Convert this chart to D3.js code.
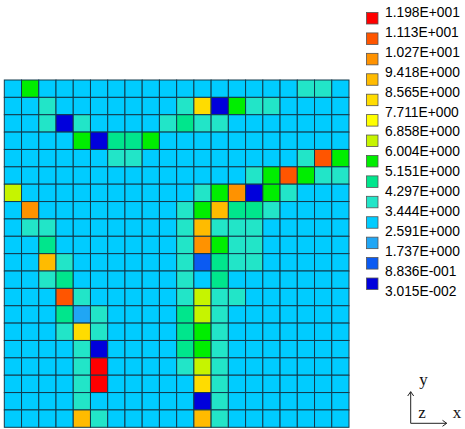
<!DOCTYPE html>
<html>
<head>
<meta charset="utf-8">
<script src="https://cdn.jsdelivr.net/npm/d3@7/dist/d3.min.js"></script>
<style>
  html, body { margin: 0; padding: 0; background: #fff; }
  svg { display: block; }
</style>
</head>
<body>
<svg id="chart" width="465" height="429"></svg>
<script>
// Contour levels shown in the legend (low to high)
const levels = [0.03015, 0.8836, 1.737, 2.591, 3.444, 4.297, 5.151, 6.004,
                6.858, 7.711, 8.565, 9.418, 10.27, 11.13, 11.98];

// One colour per band between consecutive levels (low to high)
const bandColors = ["#0000dc", "#0b5af2", "#20a6f4", "#00ccff", "#22e5c8",
                    "#00e68c", "#00ee00", "#c6f400", "#ffff00", "#ffdc00",
                    "#ffbb00", "#ff9200", "#ff5500", "#ff0000"];

// Cell values, 20 rows (top to bottom) x 20 columns (left to right)
const fieldValues = [
  [3.1,5.6,3.2,3.1,3.0,3.0,3.0,3.0,3.0,3.1,3.1,3.2,3.1,3.0,3.0,3.1,3.2,3.6,3.6,3.1],
  [3.0,3.2,3.8,3.1,3.0,3.0,3.0,3.0,3.1,3.2,3.9,8.2,0.4,5.7,3.8,3.6,3.2,3.1,3.0,3.0],
  [3.0,3.1,3.9,0.5,3.9,3.1,3.1,3.1,3.2,3.7,4.6,3.8,3.7,3.1,3.0,3.0,3.0,3.0,3.0,3.0],
  [3.0,3.0,3.2,3.2,5.5,0.3,4.5,4.4,5.6,3.3,3.1,3.0,3.0,3.0,3.0,3.0,3.0,3.1,3.2,3.3],
  [3.0,3.0,3.0,3.0,3.1,3.3,3.8,3.9,3.3,3.1,3.0,3.0,3.0,3.0,3.0,3.1,3.3,3.8,10.8,5.6],
  [3.1,3.0,3.0,3.0,3.0,3.0,3.1,3.1,3.0,3.0,3.0,3.0,3.1,3.3,3.9,5.7,10.9,5.5,3.8,3.7],
  [6.5,3.3,3.0,3.0,3.0,3.0,3.0,3.0,3.0,3.0,3.3,3.9,5.6,9.9,0.2,5.6,3.7,3.4,3.2,3.1],
  [3.3,9.8,3.3,3.0,3.0,3.0,3.0,3.0,3.0,3.1,3.8,5.8,9.1,4.6,4.5,3.7,3.3,3.1,3.0,3.0],
  [3.1,3.8,3.9,3.1,3.0,3.0,3.0,3.0,3.0,3.2,3.9,8.9,3.9,3.8,3.6,3.3,3.1,3.0,3.0,3.0],
  [3.0,3.2,4.7,3.2,3.0,3.0,3.0,3.0,3.0,3.1,3.8,10.0,5.5,3.8,3.6,3.2,3.0,3.0,3.0,3.0],
  [3.0,3.1,9.0,3.9,3.2,3.0,3.0,3.0,3.0,3.1,3.8,1.2,4.6,3.8,3.6,3.2,3.0,3.0,3.0,3.0],
  [3.0,3.0,3.8,4.6,3.2,3.0,3.0,3.0,3.0,3.1,3.9,3.3,4.5,3.3,3.1,3.0,3.0,3.0,3.0,3.0],
  [3.0,3.0,3.2,10.6,3.8,3.2,3.0,3.0,3.0,3.2,3.9,6.5,3.9,3.6,3.2,3.0,3.0,3.0,3.0,3.0],
  [3.0,3.0,3.0,4.5,2.2,3.8,3.1,3.0,3.0,3.3,4.5,6.6,3.8,3.3,3.1,3.0,3.0,3.0,3.0,3.0],
  [3.0,3.0,3.0,3.9,8.0,3.9,3.1,3.0,3.0,3.3,4.6,5.7,3.9,3.2,3.0,3.0,3.0,3.0,3.0,3.0],
  [3.0,3.0,3.0,3.2,3.9,0.6,3.2,3.0,3.0,3.3,4.5,5.8,3.8,3.2,3.0,3.0,3.0,3.0,3.0,3.0],
  [3.0,3.0,3.0,3.1,3.8,11.9,3.2,3.0,3.0,3.2,3.9,6.4,3.8,3.1,3.0,3.0,3.0,3.0,3.0,3.0],
  [3.0,3.0,3.0,3.1,3.8,11.5,3.2,3.0,3.0,3.1,3.3,8.3,3.7,3.1,3.0,3.0,3.0,3.0,3.0,3.0],
  [3.0,3.0,3.0,3.1,3.7,3.3,3.1,3.0,3.0,3.0,3.2,0.4,3.6,3.1,3.0,3.0,3.0,3.0,3.0,3.0],
  [3.0,3.0,3.0,3.1,9.0,3.6,3.1,3.0,3.0,3.0,3.1,9.2,3.6,3.1,3.0,3.0,3.0,3.0,3.0,3.0]
];

const svg = d3.select("#chart");

// Banded colour scale: thresholds are the inner contour levels
const color = d3.scaleThreshold()
  .domain(levels.slice(1, -1))
  .range(bandColors);

const nRows = fieldValues.length;
const nCols = fieldValues[0].length;

const x = d3.scaleBand().domain(d3.range(nCols)).range([4.3, 349]).paddingInner(0);
const y = d3.scaleBand().domain(d3.range(nRows)).range([80, 427.3]).paddingInner(0);

const cells = [];
fieldValues.forEach((row, r) => row.forEach((v, c) => cells.push({ r, c, v })));

// Mesh cells
svg.append("g")
  .selectAll("rect")
  .data(cells)
  .join("rect")
  .attr("x", d => x(d.c))
  .attr("y", d => y(d.r))
  .attr("width", x.bandwidth())
  .attr("height", y.bandwidth())
  .attr("fill", d => color(d.v))
  .attr("stroke", "#123a4c")
  .attr("stroke-width", 1);

// Legend: labels from highest level down, swatches between consecutive labels
function sciLabel(v) {
  const [m, e] = v.toExponential(3).split("e");
  return m + "E" + e[0] + e.slice(1).padStart(3, "0");
}
const legendLevels = levels.slice().reverse();
const legendColors = bandColors.slice().reverse();

const ly = d3.scalePoint().domain(d3.range(legendLevels.length)).range([13.5, 292]);
const sy = d3.scalePoint().domain(d3.range(legendColors.length)).range([12.5, 278]);

const legend = svg.append("g");
legend.selectAll("rect")
  .data(legendColors)
  .join("rect")
  .attr("x", 366.5)
  .attr("y", (d, i) => sy(i))
  .attr("width", 11.5)
  .attr("height", 11.5)
  .attr("fill", d => d)
  .attr("stroke", "#555")
  .attr("stroke-width", 0.8);

legend.selectAll("text")
  .data(legendLevels)
  .join("text")
  .attr("x", 385)
  .attr("y", (d, i) => ly(i))
  .attr("dominant-baseline", "middle")
  .attr("font-family", "'Liberation Sans', Arial, sans-serif")
  .attr("font-size", 13.8)
  .attr("fill", "#000")
  .text(d => sciLabel(d));

// Coordinate triad in the lower right corner
const triad = svg.append("g")
  .attr("fill", "none")
  .attr("stroke", "#222")
  .attr("stroke-width", 1);
triad.append("path").attr("d", "M410.7,423.3 V391.7 M407.7,396 L410.7,391.7 L413.7,396");
triad.append("path").attr("d", "M410.7,423.3 H446.7 M442.5,420.3 L446.7,423.3 L442.5,426.3");

const axisText = svg.append("g")
  .attr("font-family", "'Liberation Serif', 'Times New Roman', serif")
  .attr("font-size", 17)
  .attr("fill", "#111")
  .attr("text-anchor", "middle")
  .attr("dominant-baseline", "middle");
axisText.append("text").attr("x", 423.5).attr("y", 381).text("y");
axisText.append("text").attr("x", 422).attr("y", 414.5).text("z");
axisText.append("text").attr("x", 457).attr("y", 414).text("x");
</script>
</body>
</html>
